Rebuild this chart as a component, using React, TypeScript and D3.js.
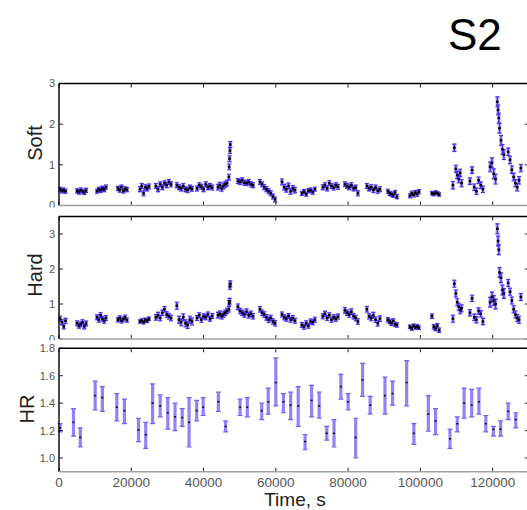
import React from "react";
import * as d3 from "d3";

const width = 527;
const height = 510;
const font = "'Liberation Sans', Arial, Helvetica, sans-serif";

// light-curve time bins (s), one row per observing chunk
const binTimes: number[][] = [
  [300, 800, 1300, 1800],
  [5000, 5500, 6000, 6500, 7000, 7500],
  [10500, 11000, 11500, 12000, 12500, 13000],
  [16300, 16800, 17300, 17800, 18300, 18800],
  [22400, 22900, 23400, 23900, 24400, 24900],
  [26800, 27400, 28000, 28600, 29200, 29800, 30400, 31000],
  [32600, 33200, 33800, 34400, 35000, 35600, 36200, 36800],
  [38200, 38800, 39400, 40000, 40600, 41200, 41800, 42400],
  [44000, 44500, 45000, 45500, 46000, 46500, 47000, 47100, 47200, 47300, 47400],
  [49500, 50100, 50700, 51300, 51900, 52500, 53100, 53700],
  [55600, 56200, 56800, 57400, 58000, 58600, 59200, 59800],
  [61700, 62300, 62900, 63500, 64100, 64700, 65300],
  [67200, 67800, 68400, 69000, 69600, 70200, 70800],
  [73000, 73600, 74200, 74800, 75400, 76000, 76600, 77200],
  [79100, 79700, 80300, 80900, 81500, 82100, 82700],
  [85200, 85800, 86400, 87000, 87600, 88200, 88800],
  [91000, 91500, 92000, 92500, 93000, 93500],
  [97100, 97600, 98100, 98600, 99100, 99600],
  [103200, 103700, 104200, 104700, 105200],
  [109000, 109400, 109800, 110200, 110600, 111000, 111400],
  [113700, 114300, 114900, 115500, 116100, 116700, 117300],
  [119300, 119800, 120300, 120800, 121300, 121500, 121700, 121900, 122300, 122700, 123100],
  [124300, 124800, 125300, 125800, 126300, 126800, 127300, 127800],
];

const softRate: number[][] = [
  [0.40, 0.36, 0.38, 0.35],
  [0.36, 0.33, 0.38, 0.35, 0.32, 0.37],
  [0.35, 0.40, 0.37, 0.42, 0.39, 0.45],
  [0.42, 0.38, 0.45, 0.36, 0.41, 0.39],
  [0.40, 0.48, 0.30, 0.45, 0.42, 0.47],
  [0.48, 0.40, 0.52, 0.45, 0.55, 0.50, 0.58, 0.52],
  [0.50, 0.45, 0.42, 0.48, 0.40, 0.38, 0.44, 0.41],
  [0.42, 0.50, 0.46, 0.40, 0.52, 0.45, 0.48, 0.44],
  [0.45, 0.50, 0.42, 0.48, 0.52, 0.55, 0.70, 0.95, 1.15, 1.35, 1.50],
  [0.60, 0.58, 0.62, 0.56, 0.55, 0.58, 0.52, 0.50],
  [0.58, 0.52, 0.45, 0.40, 0.35, 0.30, 0.22, 0.15],
  [0.58, 0.45, 0.40, 0.48, 0.35, 0.42, 0.38],
  [0.30, 0.34, 0.28, 0.36, 0.38, 0.33, 0.40],
  [0.45, 0.50, 0.42, 0.55, 0.48, 0.44, 0.50, 0.46],
  [0.52, 0.48, 0.45, 0.50, 0.42, 0.44, 0.30],
  [0.48, 0.42, 0.45, 0.38, 0.44, 0.36, 0.40],
  [0.35, 0.30, 0.28, 0.25, 0.32, 0.22],
  [0.24, 0.30, 0.26, 0.32, 0.28, 0.34],
  [0.30, 0.28, 0.32, 0.30, 0.27],
  [0.50, 1.42, 0.90, 0.75, 0.65, 0.80, 0.55],
  [0.60, 0.87, 0.45, 0.35, 0.62, 0.50, 0.40],
  [0.95, 1.05, 0.78, 0.65, 2.55, 2.35, 2.15, 1.90, 1.60, 1.38, 1.25],
  [1.32, 1.12, 0.88, 0.70, 0.55, 0.45, 0.62, 0.92],
];
const softErr = [0.05, 0.05, 0.05, 0.05, 0.06, 0.06, 0.06, 0.06, 0.07, 0.06, 0.06, 0.07,
  0.05, 0.06, 0.06, 0.06, 0.05, 0.05, 0.04, 0.09, 0.08, 0.12, 0.09];

const hardRate: number[][] = [
  [0.58, 0.48, 0.36, 0.52],
  [0.45, 0.38, 0.42, 0.48, 0.36, 0.44],
  [0.62, 0.55, 0.68, 0.58, 0.52, 0.60],
  [0.55, 0.60, 0.52, 0.57, 0.62, 0.54],
  [0.50, 0.53, 0.48, 0.55, 0.52, 0.58],
  [0.62, 0.68, 0.60, 0.75, 0.85, 0.70, 0.65, 0.60],
  [0.95, 0.55, 0.48, 0.62, 0.45, 0.40, 0.55, 0.50],
  [0.60, 0.68, 0.55, 0.65, 0.62, 0.70, 0.58, 0.66],
  [0.68, 0.72, 0.65, 0.70, 0.75, 0.80, 0.85, 1.02, 1.08, 1.50, 1.58],
  [0.92, 0.80, 0.75, 0.70, 0.78, 0.68, 0.72, 0.65],
  [0.85, 0.75, 0.70, 0.62, 0.55, 0.60, 0.50, 0.45],
  [0.70, 0.62, 0.58, 0.66, 0.55, 0.60, 0.52],
  [0.40, 0.35, 0.45, 0.38, 0.50, 0.48, 0.55],
  [0.65, 0.72, 0.60, 0.68, 0.55, 0.62, 0.58, 0.64],
  [0.82, 0.75, 0.70, 0.78, 0.65, 0.60, 0.50],
  [0.85, 0.65, 0.60, 0.68, 0.55, 0.45, 0.58],
  [0.55, 0.50, 0.45, 0.52, 0.42, 0.40],
  [0.35, 0.30, 0.38, 0.33, 0.36, 0.32],
  [0.65, 0.35, 0.30, 0.38, 0.25],
  [0.58, 1.58, 1.30, 1.05, 0.92, 0.82, 0.88],
  [0.75, 1.16, 0.62, 0.55, 0.80, 0.72, 0.50],
  [1.05, 1.20, 1.10, 1.00, 3.15, 2.80, 2.55, 1.90, 1.75, 1.40, 1.30],
  [1.60, 1.35, 1.10, 0.85, 0.70, 0.60, 0.55, 1.20],
];
const hardErr = [0.07, 0.07, 0.07, 0.06, 0.05, 0.08, 0.10, 0.07, 0.08, 0.08, 0.08, 0.07,
  0.07, 0.07, 0.08, 0.08, 0.06, 0.05, 0.06, 0.10, 0.09, 0.14, 0.10];

// hardness ratio, coarser bins
const hrTime = [
  300, 4000, 5900, 10000, 12000, 16000, 18100, 22000, 24000, 25900,
  28000, 30100, 32100, 34100, 36000, 38100, 39900, 44100, 46100, 50100,
  52100, 56100, 57900, 60000, 62100, 64100, 66200, 68100, 69900, 72000,
  74100, 76100, 78000, 80000, 82100, 84000, 86100, 90200, 92300, 96200,
  98200, 102200, 104200, 108200, 110200, 112100, 114200, 116200, 118100, 120200,
  122200, 124300, 126400,
];
const hrValue = [
  1.22, 1.26, 1.15, 1.455, 1.44, 1.37, 1.345, 1.205, 1.17, 1.40,
  1.38, 1.33, 1.30, 1.295, 1.26, 1.345, 1.37, 1.41, 1.23, 1.37,
  1.37, 1.345, 1.41, 1.55, 1.41, 1.385, 1.38, 1.12, 1.42, 1.38,
  1.18, 1.18, 1.52, 1.41, 1.15, 1.57, 1.385, 1.455, 1.47, 1.55,
  1.18, 1.32, 1.27, 1.14, 1.25, 1.40, 1.385, 1.41, 1.25, 1.21,
  1.21, 1.34, 1.28,
];
const hrLow = [
  1.19, 1.16, 1.08, 1.35, 1.34, 1.27, 1.25, 1.12, 1.07, 1.25,
  1.30, 1.21, 1.20, 1.23, 1.08, 1.27, 1.31, 1.34, 1.19, 1.31,
  1.30, 1.28, 1.32, 1.38, 1.33, 1.28, 1.23, 1.06, 1.30, 1.29,
  1.13, 1.08, 1.43, 1.35, 1.00, 1.45, 1.32, 1.32, 1.385, 1.38,
  1.10, 1.195, 1.17, 1.07, 1.19, 1.29, 1.30, 1.32, 1.19, 1.16,
  1.16, 1.28, 1.22,
];
const hrHigh = [
  1.25, 1.36, 1.22, 1.56, 1.52, 1.47, 1.43, 1.29, 1.26, 1.54,
  1.46, 1.44, 1.40, 1.36, 1.44, 1.42, 1.44, 1.48, 1.27, 1.43,
  1.44, 1.40, 1.51, 1.73, 1.47, 1.48, 1.52, 1.17, 1.53, 1.48,
  1.23, 1.28, 1.61, 1.47, 1.29, 1.69, 1.45, 1.59, 1.56, 1.71,
  1.25, 1.455, 1.36, 1.21, 1.30, 1.51, 1.50, 1.51, 1.31, 1.23,
  1.27, 1.40, 1.33,
];

const timeTicks = [0, 20000, 40000, 60000, 80000, 100000, 120000];
const softTicks = [0, 1, 2, 3];
const hardTicks = [0, 1, 2, 3];
const hrTicks = [1.0, 1.2, 1.4, 1.6, 1.8];

const x = d3.scaleLinear().domain([0, 130000]).range([59, 528.8]);
const ySoft = d3.scaleLinear().domain([0, 3]).range([205.5, 83.5]);
const yHard = d3.scaleLinear().domain([0, 3.5]).range([339, 216.5]);
const yHR = d3.scaleLinear().domain([0.9, 1.8]).range([471.7, 348.3]);

const barColor = "#4a2ef0";
const haloColor = "#9d8cff";

function Frame({ y, ticks, fmt }: { y: d3.ScaleLinear<number, number>; ticks: number[]; fmt: (v: number) => string }) {
  const [x0, x1] = x.range();
  const [yb, yt] = y.range();
  return (
    <g>
      {timeTicks.map(t => (
        <g key={t} stroke="#222" strokeWidth={1}>
          <line x1={x(t)} x2={x(t)} y1={yt} y2={yt + 4} />
          <line x1={x(t)} x2={x(t)} y1={yb} y2={yb - 4} />
        </g>
      ))}
      {ticks.map(v => (
        <g key={v}>
          <line x1={x0} x2={x0 + 4} y1={y(v)} y2={y(v)} stroke="#222" />
          <line x1={x1} x2={x1 - 4} y1={y(v)} y2={y(v)} stroke="#222" />
          <text x={x0 - 4} y={y(v)} dy="0.36em" textAnchor="end" fontSize={11} fill="#555">
            {fmt(v)}
          </text>
        </g>
      ))}
      <line x1={x0} x2={x1} y1={yt} y2={yt} stroke="#000" strokeWidth={1.4} />
      <line x1={x0} x2={x0} y1={yt} y2={yb} stroke="#000" strokeWidth={1.4} />
      <line x1={x1} x2={x1} y1={yt} y2={yb} stroke="#000" strokeWidth={1.4} />
      <line x1={x0} x2={x1} y1={yb} y2={yb} stroke="#a0a0a0" strokeWidth={1.4} />
    </g>
  );
}

function RatePoints({ y, rates, errs }: { y: d3.ScaleLinear<number, number>; rates: number[][]; errs: number[] }) {
  const pts = rates.flatMap((row, i) =>
    row.map((v, j) => ({ key: `${i}-${j}`, cx: x(binTimes[i][j]), cy: y(v), lo: y(v - errs[i]), hi: y(v + errs[i]) }))
  );
  return (
    <g>
      {pts.map(p => (
        <line key={`h${p.key}`} x1={p.cx} x2={p.cx} y1={p.lo + 1} y2={p.hi - 1} stroke={haloColor} strokeWidth={4} opacity={0.45} />
      ))}
      {pts.map(p => (
        <g key={p.key}>
          <line x1={p.cx} x2={p.cx} y1={p.lo} y2={p.hi} stroke={barColor} strokeWidth={1.5} />
          <line x1={p.cx - 2} x2={p.cx + 2} y1={p.lo} y2={p.lo} stroke={barColor} strokeWidth={1.1} />
          <line x1={p.cx - 2} x2={p.cx + 2} y1={p.hi} y2={p.hi} stroke={barColor} strokeWidth={1.1} />
        </g>
      ))}
      {pts.map(p => (
        <rect key={`d${p.key}`} x={p.cx - 1.3} y={p.cy - 1.2} width={2.6} height={2.4} fill="#000" />
      ))}
    </g>
  );
}

export default function App() {
  return (
    <svg width={width} height={height} style={{ position: "absolute", left: 0, top: 0, background: "#fff" }} fontFamily={font}>
      <defs>
        <clipPath id="clipSoft"><rect x={0} y={0} width={width} height={207.5} /></clipPath>
        <clipPath id="clipHard"><rect x={0} y={207.5} width={width} height={132.8} /></clipPath>
        <clipPath id="clipHR"><rect x={0} y={340.3} width={width} height={170} /></clipPath>
      </defs>

      <text x={448} y={50} fontSize={44} fill="#000">S2</text>

      <g clipPath="url(#clipSoft)">
        <RatePoints y={ySoft} rates={softRate} errs={softErr} />
        <Frame y={ySoft} ticks={softTicks} fmt={d3.format("d")} />
        <text transform="translate(41.5,143) rotate(-90)" textAnchor="middle" fontSize={20} fill="#222">Soft</text>
      </g>

      <g clipPath="url(#clipHard)">
        <RatePoints y={yHard} rates={hardRate} errs={hardErr} />
        <Frame y={yHard} ticks={hardTicks} fmt={d3.format("d")} />
        <text transform="translate(41.5,275) rotate(-90)" textAnchor="middle" fontSize={20} fill="#222">Hard</text>
      </g>

      <g clipPath="url(#clipHR)">
        {hrTime.map((t, i) => {
          const cx = x(t);
          const lo = yHR(hrLow[i]);
          const hi = yHR(hrHigh[i]);
          return (
            <g key={t}>
              <line x1={cx} x2={cx} y1={lo} y2={hi} stroke="#9680f7" strokeWidth={3.2} />
              <line x1={cx - 2.5} x2={cx + 2.5} y1={lo} y2={lo} stroke="#7a5cf4" strokeWidth={1.2} />
              <line x1={cx - 2.5} x2={cx + 2.5} y1={hi} y2={hi} stroke="#7a5cf4" strokeWidth={1.2} />
              <rect x={cx - 1} y={yHR(hrValue[i]) - 0.8} width={2} height={1.6} fill="#111" />
            </g>
          );
        })}
        <Frame y={yHR} ticks={hrTicks} fmt={d3.format(".1f")} />
        {timeTicks.map(t => (
          <text key={t} x={x(t)} y={486.5} textAnchor="middle" fontSize={13.5} fill="#555">{t}</text>
        ))}
        <text transform="translate(33.5,409) rotate(-90)" textAnchor="middle" fontSize={20} fill="#222">HR</text>
        <text x={295} y={506} textAnchor="middle" fontSize={19} fill="#222">Time, s</text>
      </g>
    </svg>
  );
}
